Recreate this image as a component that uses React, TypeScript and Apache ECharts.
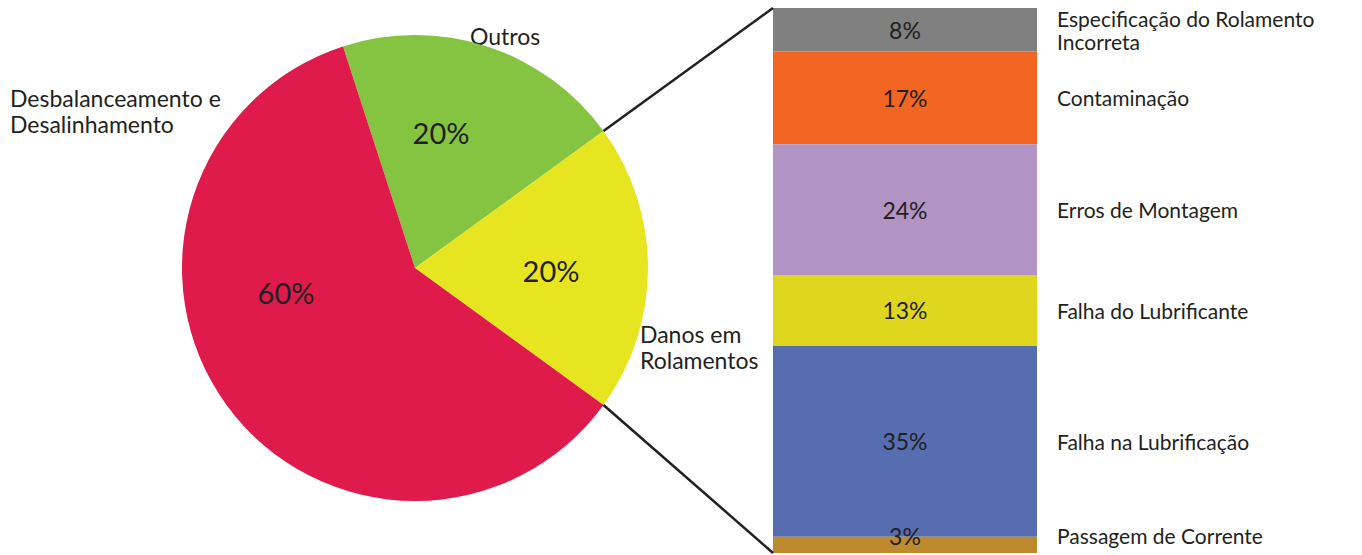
import React, { useEffect, useRef } from "react";
import * as echarts from "echarts";

// Pie data (order: clockwise from top)
const pieNames = ["Outros", "Danos em\nRolamentos", "Desbalanceamento e\nDesalinhamento"];
const pieValues = [20, 20, 60];
const pieColors = ["#84c441", "#e6e51f", "#df1b4b"];

// Stacked bar breakdown of "Danos em Rolamentos" (top to bottom)
const barNames = [
  "Especificação do Rolamento\nIncorreta",
  "Contaminação",
  "Erros de Montagem",
  "Falha do Lubrificante",
  "Falha na Lubrificação",
  "Passagem de Corrente",
];
const barValues = [8, 17, 24, 13, 35, 3];
const barColors = ["#808080", "#f26522", "#b193c4", "#dfd61e", "#566db0", "#bd8a2e"];

const FONT = "Lato, 'Liberation Sans', sans-serif";
const TEXT = "#231f20";

export default function App() {
  const ref = useRef<HTMLDivElement>(null);
  useEffect(() => {
    if (!ref.current) return;
    const chart = echarts.init(ref.current, undefined, { renderer: "svg" });

    const cx = 415, cy = 268, R = 233, startAngle = 108;
    const gridLeft = 773, gridTop = 8, gridW = 264, gridH = 545;
    const total = pieValues.reduce((a, b) => a + b, 0);
    const a1 = ((startAngle - (pieValues[0] / total) * 360) * Math.PI) / 180;
    const a2 = ((startAngle - ((pieValues[0] + pieValues[1]) / total) * 360) * Math.PI) / 180;
    const p1 = [cx + R * Math.cos(a1), cy - R * Math.sin(a1)];
    const p2 = [cx + R * Math.cos(a2), cy - R * Math.sin(a2)];

    const innerPos = [
      [441, 132],
      [551, 270],
      [286, 292],
    ];
    const namePos = [
      { x: 470, y: 36 },
      { x: 640, y: 347 },
      { x: 10, y: 111 },
    ];
    const lastOffset = [0, -9];

    const barSeries: any[] = [];
    barValues.forEach((v, i) => {
      const last = i === barValues.length - 1;
      barSeries.push({
        type: "bar",
        name: barNames[i],
        stack: "pct",
        barWidth: "100%",
        barGap: "-100%",
        data: [v],
        itemStyle: { color: barColors[i] },
        label: {
          show: true,
          position: "inside",
          formatter: "{c}%",
          fontFamily: FONT,
          fontSize: 23,
          color: TEXT,
          offset: last ? lastOffset : [0, 0],
        },
      });
    });
    barValues.forEach((v, i) => {
      const last = i === barValues.length - 1;
      barSeries.push({
        type: "bar",
        name: barNames[i] + " ",
        stack: "names",
        silent: true,
        barWidth: "100%",
        barGap: "-100%",
        data: [v],
        itemStyle: { color: "rgba(0,0,0,0)" },
        label: {
          show: true,
          position: "right",
          distance: 20,
          formatter: barNames[i],
          fontFamily: FONT,
          fontSize: 21,
          lineHeight: 23,
          color: TEXT,
          align: "left",
          offset: last ? lastOffset : [0, 0],
        },
      });
    });

    chart.setOption({
      animation: false,
      backgroundColor: "#ffffff",
      grid: { left: gridLeft, top: gridTop, width: gridW, height: gridH },
      xAxis: { type: "category", data: ["Danos"], show: false },
      yAxis: { type: "value", min: 0, max: 100, inverse: true, show: false },
      series: [
        {
          type: "pie",
          center: [cx, cy],
          radius: R,
          startAngle,
          clockwise: true,
          silent: true,
          data: pieNames.map((n, i) => ({ name: n, value: pieValues[i], itemStyle: { color: pieColors[i] } })),
          label: {
            show: true,
            position: "inside",
            formatter: "{c}%",
            fontFamily: FONT,
            fontSize: 29,
            color: TEXT,
          },
          labelLayout: (p: any) => ({
            x: innerPos[p.dataIndex][0],
            y: innerPos[p.dataIndex][1],
            align: "center",
            verticalAlign: "middle",
          }),
        },
        ...barSeries,
      ],
      graphic: [
        ...pieNames.map((n, i) => ({
          type: "text",
          x: namePos[i].x,
          y: namePos[i].y,
          style: {
            text: n,
            fontFamily: FONT,
            fontSize: 23,
            lineHeight: 26,
            fill: TEXT,
            align: "left",
            verticalAlign: "middle",
          },
        })),
        {
          type: "line",
          shape: { x1: p1[0], y1: p1[1], x2: gridLeft, y2: gridTop },
          style: { stroke: TEXT, lineWidth: 2.5 },
          z: 10,
        },
        {
          type: "line",
          shape: { x1: p2[0], y1: p2[1], x2: gridLeft, y2: gridTop + gridH },
          style: { stroke: TEXT, lineWidth: 2.5 },
          z: 10,
        },
      ],
    });
    return () => chart.dispose();
  }, []);
  return (
    <div
      ref={ref}
      style={{ position: "fixed", left: 0, top: 0, width: 1362, height: 555 }}
    />
  );
}
